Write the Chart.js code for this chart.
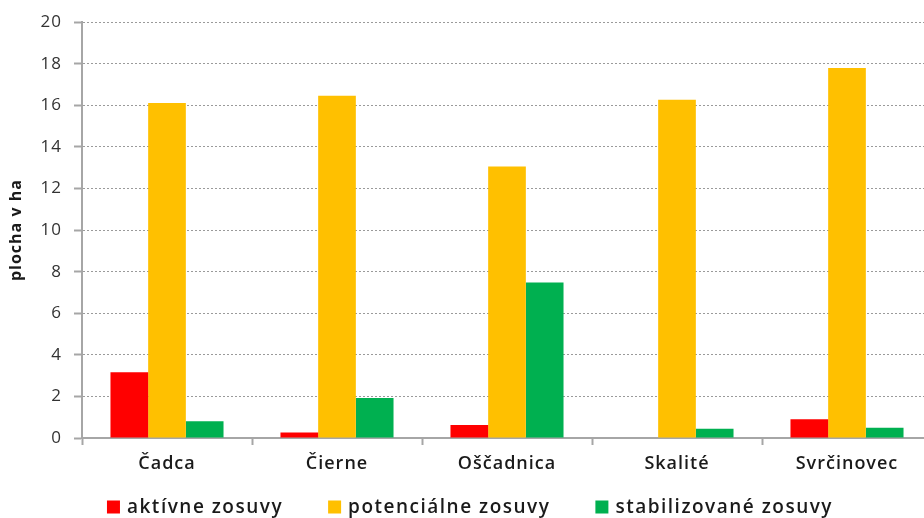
<!DOCTYPE html>
<html>
<head>
<meta charset="utf-8">
<script src="https://cdn.jsdelivr.net/npm/chart.js@4/dist/chart.umd.min.js"></script>
<style>
  html, body { margin: 0; padding: 0; overflow: hidden; background: #fff; }
  #wrap { width: 940px; height: 518px; position: relative; }
</style>
</head>
<body>
<div id="wrap"><canvas id="c"></canvas></div>
<script>
// Plocha zosuvov podľa obcí (ha)
const categories = ['Čadca', 'Čierne', 'Oščadnica', 'Skalité', 'Svrčinovec'];
const aktivne = [3.16, 0.27, 0.62, 0, 0.9];
const potencialne = [16.11, 16.46, 13.06, 16.27, 17.8];
const stabilizovane = [0.81, 1.92, 7.48, 0.44, 0.49];
const seriesNames = ['aktívne zosuvy', 'potenciálne zosuvy', 'stabilizované zosuvy'];
const yTicks = [0, 2, 4, 6, 8, 10, 12, 14, 16, 18, 20];

const FONT = '"Open Sans", "Liberation Sans", sans-serif';

// Slightly wider lettering for all axis text
const spacing = {
  id: 'spacing',
  beforeLayout(chart) { chart.ctx.letterSpacing = '1px'; },
  beforeDraw(chart) { chart.ctx.letterSpacing = '1px'; }
};

// Legend drawn below the plot: square swatch + label, centred on the canvas
const bottomLegend = {
  id: 'bottomLegend',
  afterDraw(chart) {
    const ctx = chart.ctx;
    const box = 13, gap = 7, between = 45, yc = 507;
    ctx.save();
    ctx.font = '600 19px ' + FONT;
    ctx.letterSpacing = '1.5px';
    ctx.textBaseline = 'middle';
    const items = chart.data.datasets.map(d => ({ text: d.label, color: d.backgroundColor, w: ctx.measureText(d.label).width }));
    const total = items.reduce((s, it) => s + box + gap + it.w, 0) + between * (items.length - 1);
    let x = chart.width / 2 - total / 2;
    items.forEach(it => {
      ctx.fillStyle = it.color;
      ctx.fillRect(x, yc - box / 2, box, box);
      x += box + gap;
      ctx.fillStyle = '#1a1a1a';
      ctx.fillText(it.text, x, yc + 1);
      x += it.w + between;
    });
    ctx.restore();
  }
};

new Chart(document.getElementById('c'), {
  type: 'bar',
  data: {
    labels: categories,
    datasets: [
      { label: seriesNames[0], data: aktivne, backgroundColor: '#ff0000' },
      { label: seriesNames[1], data: potencialne, backgroundColor: '#ffc000' },
      { label: seriesNames[2], data: stabilizovane, backgroundColor: '#00b050' }
    ]
  },
  options: {
    responsive: true,
    maintainAspectRatio: false,
    animation: false,
    datasets: { bar: { categoryPercentage: 0.665, barPercentage: 1.0, borderWidth: 0 } },
    layout: { padding: { left: 0, right: 8, top: 18, bottom: 0 } },
    plugins: { legend: { display: false }, tooltip: { enabled: false } },
    scales: {
      x: {
        grid: { offset: true, drawOnChartArea: false, drawTicks: true, tickLength: 7, tickColor: '#a6a6a6', tickWidth: 2 },
        border: { color: '#a6a6a6', width: 2 },
        ticks: { color: '#1a1a1a', font: { family: FONT, size: 18, weight: '600' }, padding: 8 },
        afterFit(s) { s.height = 80; }
      },
      y: {
        min: 0, max: 20,
        afterBuildTicks(s) { s.ticks = yTicks.map(v => ({ value: v })); },
        grid: { color: '#9a9a9a', lineWidth: 1, tickLength: 8, tickColor: '#a6a6a6', tickWidth: 2, tickBorderDash: [] },
        border: { color: '#a6a6a6', width: 2, dash: [2, 2] },
        ticks: { color: '#333333', font: { family: FONT, size: 17 }, padding: 12 },
        title: { display: true, text: 'plocha v ha', color: '#1a1a1a', font: { family: FONT, size: 16, weight: 'bold' }, padding: { top: 7, bottom: 0 } },
        afterFit(s) { s.width = 82; }
      }
    }
  },
  plugins: [spacing, bottomLegend]
});
</script>
</body>
</html>
